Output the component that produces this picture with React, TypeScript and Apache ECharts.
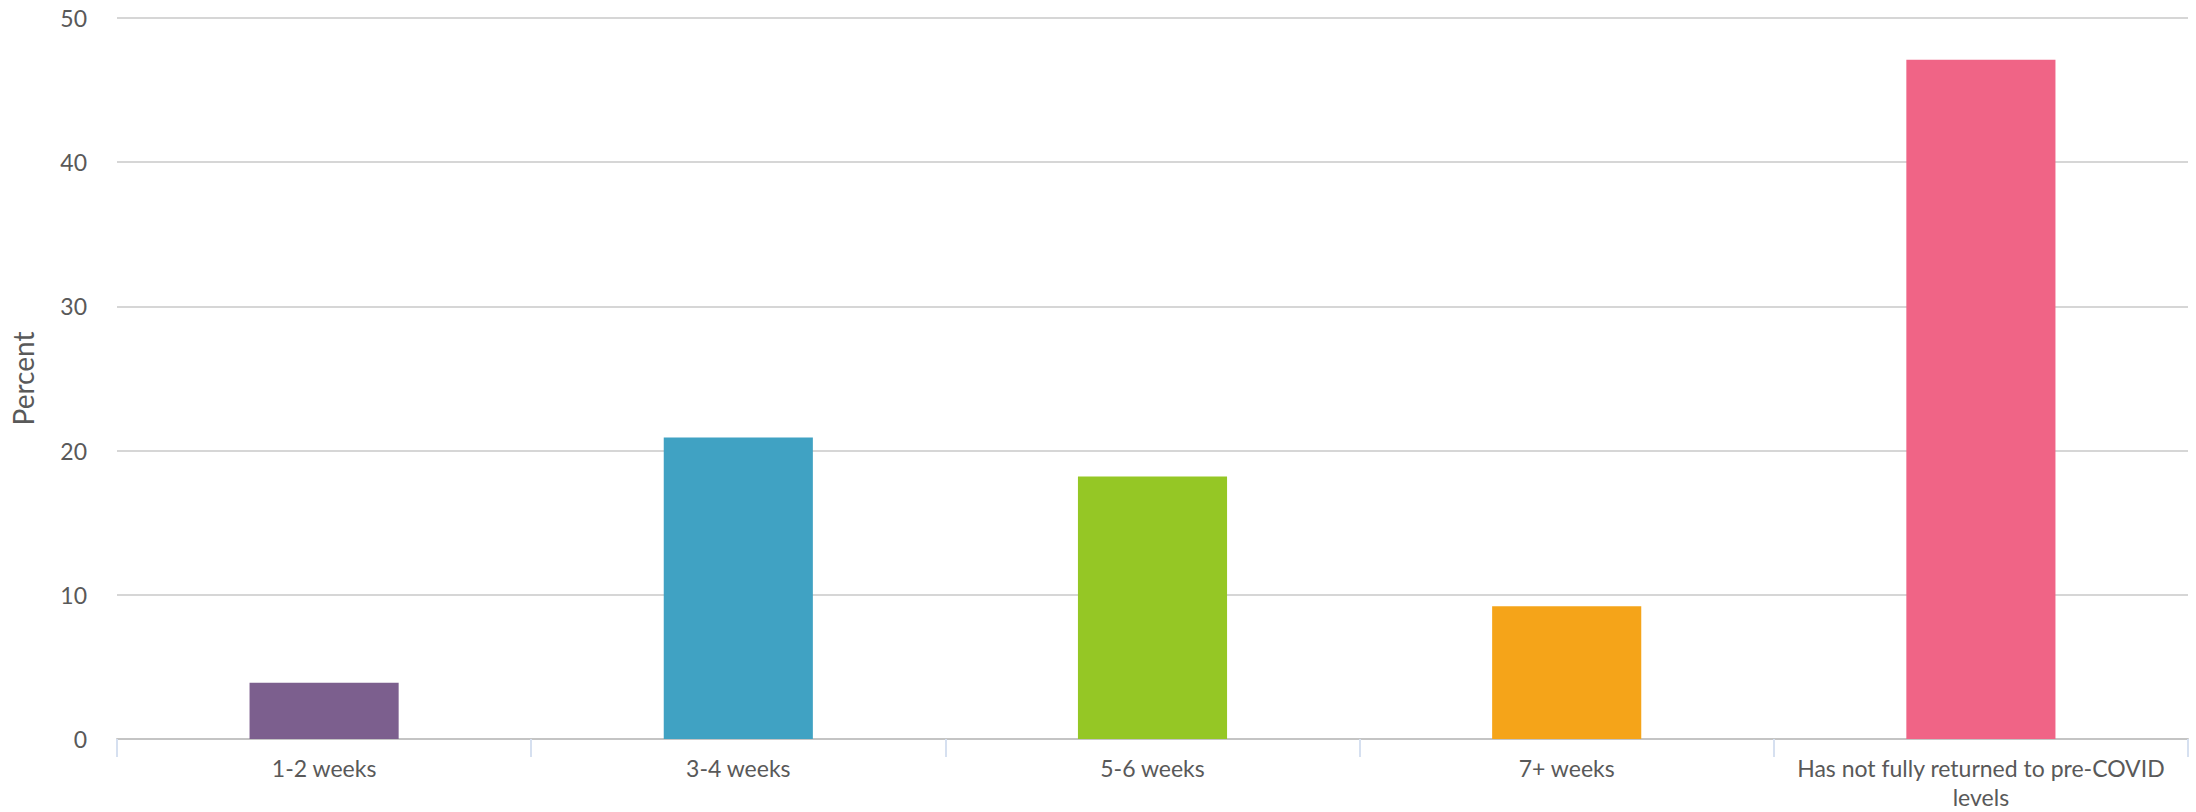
import React, { useEffect, useRef } from "react";
import * as echarts from "echarts";

const categories = [
  "1-2 weeks",
  "3-4 weeks",
  "5-6 weeks",
  "7+ weeks",
  "Has not fully returned to pre-COVID\nlevels",
];
const values = [3.9, 20.9, 18.2, 9.2, 47.1];
const barColors = ["#7C5F8E", "#40A2C3", "#95C725", "#F5A419", "#F06486"];
const yTicks = { min: 0, max: 50, interval: 10 };

export default function App() {
  const ref = useRef<HTMLDivElement>(null);
  useEffect(() => {
    if (!ref.current) return;
    const chart = echarts.init(ref.current, undefined, { renderer: "svg" });
    chart.setOption({
      animation: false,
      backgroundColor: "#ffffff",
      textStyle: { fontFamily: "Lato" },
      grid: { left: 117, right: 8, top: 18, bottom: 73, containLabel: false },
      xAxis: {
        type: "category",
        data: categories,
        boundaryGap: true,
        axisLine: { show: true, lineStyle: { color: "#C4C4C4", width: 2 } },
        axisTick: { show: true, length: 18, lineStyle: { color: "#D6E0F0", width: 2 } },
        axisLabel: {
          color: "#595959",
          fontSize: 23,
          fontFamily: "Lato",
          margin: 14,
          lineHeight: 29,
          interval: 0,
        },
      },
      yAxis: {
        type: "value",
        min: yTicks.min,
        max: yTicks.max,
        interval: yTicks.interval,
        name: "Percent",
        nameLocation: "middle",
        nameGap: 80,
        nameTextStyle: { color: "#595959", fontSize: 28, fontFamily: "Lato" },
        axisLine: { show: false },
        axisTick: { show: false },
        axisLabel: { color: "#595959", fontSize: 23, fontFamily: "Lato", margin: 30 },
        splitLine: { show: true, lineStyle: { color: "#C8C8C8", width: 1.5 } },
      },
      series: [
        {
          type: "bar",
          data: values.map((v, i) => ({ value: v, itemStyle: { color: barColors[i] } })),
          barWidth: "36%",
        },
      ],
    });
    return () => chart.dispose();
  }, []);
  return (
    <div
      ref={ref}
      style={{ position: "fixed", left: 0, top: 0, width: 2196, height: 812 }}
    />
  );
}
